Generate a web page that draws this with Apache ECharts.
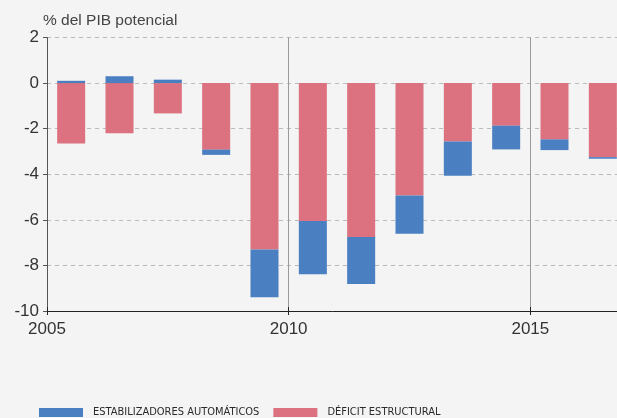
<!DOCTYPE html>
<html>
<head>
<meta charset="utf-8">
<script src="https://cdn.jsdelivr.net/npm/echarts@6/dist/echarts.min.js"></script>
<style>
  html, body { margin: 0; padding: 0; background: #f3f4f3; }
  #chart { width: 617px; height: 418px; }
</style>
</head>
<body>
<div id="chart"></div>
<script>
// años (una barra por año) y valores en % del PIB potencial
var years = ['2005', '2006', '2007', '2008', '2009', '2010', '2011', '2012', '2013', '2014', '2015', '2016'];
var deficitEstructural = [-2.65, -2.2, -1.33, -2.92, -7.3, -6.05, -6.75, -4.93, -2.56, -1.87, -2.47, -3.25];
var estabilizadores = [0.1, 0.3, 0.15, -0.23, -2.1, -2.34, -2.07, -1.68, -1.51, -1.04, -0.47, -0.07];
var yearTicks = [2005, 2010, 2015];

var font = '"Liberation Sans", Arial, sans-serif';
var legendFont = '"DejaVu Sans Condensed", "Liberation Sans Narrow", sans-serif';

var myChart = echarts.init(document.getElementById('chart'));

// eje auxiliar de años: mismo rango que las categorias (2005-2017)
function yearAxis(extra) {
    var a = {
        type: 'value',
        min: 2005, max: 2017, interval: 5,
        axisLabel: { show: false },
        splitLine: { show: false }
    };
    for (var k in extra) a[k] = extra[k];
    return a;
}

var option = {
    backgroundColor: '#f3f4f3',
    animation: false,
    textStyle: { fontFamily: font },
    title: {
        text: '% del PIB potencial',
        left: 38, top: 8,
        textStyle: { fontFamily: font, fontSize: 15.5, fontWeight: 'normal', color: '#444' }
    },
    grid: { left: 47, right: -10, top: 37.5, bottom: 107, outerBoundsMode: 'none', containLabel: false },
    legend: {
        bottom: 0, left: 39, padding: 0,
        itemWidth: 44, itemHeight: 9, itemGap: 14,
        icon: 'rect',
        textStyle: { fontFamily: legendFont, fontSize: 11, color: '#2a2a2a', padding: [0, 0, 0, 5] },
        data: ['ESTABILIZADORES AUTOMÁTICOS', 'DÉFICIT ESTRUCTURAL']
    },
    xAxis: [
        {
            type: 'category',
            data: years,
            position: 'bottom',
            show: false
        },
        yearAxis({
            position: 'bottom',
            axisLine: { show: false, onZero: false },
            axisTick: { show: false },
            axisLabel: {
                show: true, fontSize: 17, color: '#333', margin: 10,
                formatter: function (v) { return yearTicks.indexOf(v) >= 0 ? String(v) : ''; }
            },
            splitLine: { show: true, lineStyle: { color: '#999', width: 1 } }
        }),
        yearAxis({
            position: 'bottom',
            axisLine: { show: true, onZero: true, lineStyle: { color: '#222', width: 1 } },
            axisTick: { show: true, inside: true, length: 4, lineStyle: { color: '#222' } }
        }),
        yearAxis({
            position: 'bottom',
            axisLine: { show: false, onZero: true },
            axisTick: { show: true, length: 4, lineStyle: { color: '#222' } }
        })
    ],
    yAxis: {
        type: 'value',
        min: -10, max: 2, interval: 2,
        axisLine: { show: true, lineStyle: { color: '#555' } },
        axisTick: { show: true, length: 4, lineStyle: { color: '#555' } },
        axisLabel: { fontSize: 17, color: '#333', margin: 8 },
        splitLine: { show: true, lineStyle: { color: '#bbb', type: [4, 4] } }
    },
    series: [
        {
            name: 'DÉFICIT ESTRUCTURAL',
            type: 'bar',
            xAxisIndex: 0,
            stack: 'total',
            barWidth: 28,
            itemStyle: { color: '#dc717f' },
            data: deficitEstructural
        },
        {
            name: 'ESTABILIZADORES AUTOMÁTICOS',
            type: 'bar',
            xAxisIndex: 0,
            stack: 'total',
            barWidth: 28,
            itemStyle: { color: '#4a7fc2' },
            data: estabilizadores
        }
    ]
};

myChart.setOption(option);
</script>
</body>
</html>
